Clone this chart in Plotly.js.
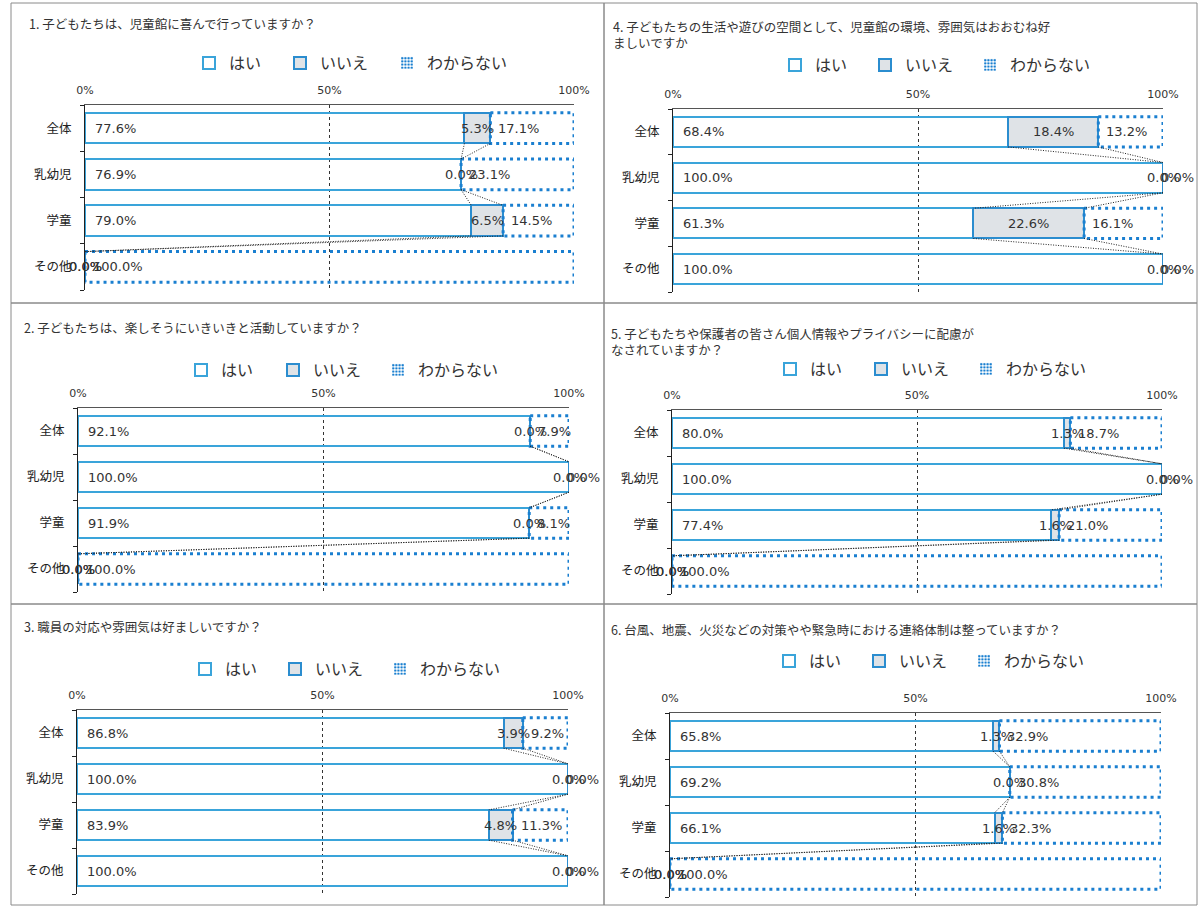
<!DOCTYPE html>
<html><head><meta charset="utf-8">
<script src="https://cdn.plot.ly/plotly-3.0.1.min.js"></script>
<style>html,body{margin:0;padding:0;background:#fff}#chart{width:1200px;height:907px}</style>
</head><body><div id="chart"></div>
<script>
// ---------- data ----------
const categories = ['全体', '乳幼児', '学童', 'その他'];
const seriesNames = ['はい', 'いいえ', 'わからない'];
const tickValues = [0, 50, 100];
const tickLabels = ['0%', '50%', '100%'];

const title1 = '1. 子どもたちは、児童館に喜んで行っていますか？';
const title2 = '2. 子どもたちは、楽しそうにいきいきと活動していますか？';
const title3 = '3. 職員の対応や雰囲気は好ましいですか？';
const title4 = '4. 子どもたちの生活や遊びの空間として、児童館の環境、雰囲気はおおむね好<br>ましいですか';
const title5 = '5. 子どもたちや保護者の皆さん個人情報やプライバシーに配慮が<br>なされていますか？';
const title6 = '6. 台風、地震、火災などの対策やや緊急時における連絡体制は整っていますか？';

const q1Yes = [77.6, 76.9, 79.0, 0.0];
const q1No  = [5.3, 0.0, 6.5, 0.0];
const q1Dk  = [17.1, 23.1, 14.5, 100.0];

const q2Yes = [92.1, 100.0, 91.9, 0.0];
const q2No  = [0.0, 0.0, 0.0, 0.0];
const q2Dk  = [7.9, 0.0, 8.1, 100.0];

const q3Yes = [86.8, 100.0, 83.9, 100.0];
const q3No  = [3.9, 0.0, 4.8, 0.0];
const q3Dk  = [9.2, 0.0, 11.3, 0.0];

const q4Yes = [68.4, 100.0, 61.3, 100.0];
const q4No  = [18.4, 0.0, 22.6, 0.0];
const q4Dk  = [13.2, 0.0, 16.1, 0.0];

const q5Yes = [80.0, 100.0, 77.4, 0.0];
const q5No  = [1.3, 0.0, 1.6, 0.0];
const q5Dk  = [18.7, 0.0, 21.0, 100.0];

const q6Yes = [65.8, 69.2, 66.1, 0.0];
const q6No  = [1.3, 0.0, 1.6, 0.0];
const q6Dk  = [32.9, 30.8, 32.3, 100.0];

const panels = [
  {title: title1, yes: q1Yes, no: q1No, dk: q1Dk},
  {title: title2, yes: q2Yes, no: q2No, dk: q2Dk},
  {title: title3, yes: q3Yes, no: q3No, dk: q3Dk},
  {title: title4, yes: q4Yes, no: q4No, dk: q4Dk},
  {title: title5, yes: q5Yes, no: q5No, dk: q5Dk},
  {title: title6, yes: q6Yes, no: q6No, dk: q6Dk}
];

// ---------- layout geometry (pixels) ----------
const W = 1200, H = 907;
const geom = [
  {plot: [85, 574, 105, 290],   title: [27, 23],  legendY: 63,  legendX: [209, 300, 407]},
  {plot: [78, 569, 408, 592],   title: [22, 327], legendY: 370, legendX: [201, 293, 398]},
  {plot: [77, 568, 710, 894],   title: [22, 626], legendY: 669, legendX: [205, 295, 400]},
  {plot: [673, 1163, 109, 292], title: [611, 34], legendY: 65,  legendX: [795, 885, 990]},
  {plot: [672, 1162, 410, 594], title: [609, 341], legendY: 369, legendX: [790, 881, 986]},
  {plot: [670, 1161, 713, 897], title: [609, 629], legendY: 661, legendX: [789, 879, 984]}
];
const borders = [[11, 604, 3, 303], [11, 604, 303, 604], [11, 604, 604, 905],
                 [604, 1197, 3, 303], [604, 1197, 303, 604], [604, 1197, 604, 905]];

const px = x => x / W;
const py = y => 1 - y / H;

const CJK = '"Noto Sans CJK JP", sans-serif';
const NUM = '"DejaVu Sans", "Noto Sans CJK JP", sans-serif';
const C_YES = '#3aa4da';
const C_NO = '#2b8dcf';
const C_DK = '#1a7fd0';
const BW = 0.66, HW = BW / 2;

const traces = [];
const annotations = [];
const shapes = [];
const layout = {
  width: W, height: H,
  margin: {l: 0, r: 0, t: 0, b: 0},
  paper_bgcolor: '#ffffff',
  plot_bgcolor: 'rgba(0,0,0,0)',
  barmode: 'stack',
  barnorm: 'percent',
  font: {family: CJK, size: 12, color: '#333'},
  hovermode: false
};

borders.forEach(b => {
  shapes.push({type: 'rect', xref: 'paper', yref: 'paper',
    x0: px(b[0]), x1: px(b[1]), y0: py(b[2]), y1: py(b[3]),
    line: {color: '#8a8a8a', width: 1}, layer: 'below'});
});

const fmt = v => v.toFixed(1) + '%';
const legendId = (k, s) => { const n = k * 3 + s + 1; return n === 1 ? 'legend' : 'legend' + n; };

panels.forEach((p, k) => {
  const n = k + 1;
  const sfx = n === 1 ? '' : String(n);
  const xa = 'x' + sfx, ya = 'y' + sfx;
  const g = geom[k];
  const idx = categories.map((_, i) => i);
  const tot = idx.map(i => p.yes[i] + p.no[i] + p.dk[i]);
  const a = idx.map(i => p.yes[i] / tot[i] * 100);
  const b = idx.map(i => (p.yes[i] + p.no[i]) / tot[i] * 100);

  const common = {type: 'bar', orientation: 'h', y: idx, width: BW, xaxis: xa, yaxis: ya,
    cliponaxis: false, hoverinfo: 'skip'};
  traces.push(Object.assign({}, common, {name: seriesNames[0], x: p.yes, legend: legendId(k, 0),
    marker: {color: 'rgba(255,255,255,0)', line: {color: C_YES, width: 2}}}));
  traces.push(Object.assign({}, common, {name: seriesNames[1], x: p.no, legend: legendId(k, 1),
    marker: {color: '#dfe3e7', line: {color: C_NO, width: 2}}}));
  traces.push(Object.assign({}, common, {name: seriesNames[2], x: p.dk, showlegend: false,
    marker: {color: 'rgba(255,255,255,0)', line: {width: 0}}}));

  // dotted outline of わからない segments
  const ox = [], oy = [];
  idx.forEach(i => {
    if (p.dk[i] > 0) {
      ox.push(b[i], 100, 100, b[i], b[i], null);
      oy.push(i - HW, i - HW, i + HW, i + HW, i - HW, null);
    }
  });
  traces.push({type: 'scatter', mode: 'lines', x: ox, y: oy, xaxis: xa, yaxis: ya,
    showlegend: false, cliponaxis: false, hoverinfo: 'skip',
    line: {color: C_DK, width: 3, dash: '3px,4px'}});

  // series lines
  const sx = [], sy = [];
  for (let i = 0; i < categories.length - 1; i++) {
    [a, b].forEach(c => {
      sx.push(c[i], c[i + 1], null);
      sy.push(i + HW, i + 1 - HW, null);
    });
  }
  traces.push({type: 'scatter', mode: 'lines', x: sx, y: sy, xaxis: xa, yaxis: ya,
    showlegend: false, cliponaxis: false, hoverinfo: 'skip',
    line: {color: '#222', width: 1, dash: '1px,1.5px'}});

  // legend entry for わからない (dotted icon)
  traces.push({type: 'bar', orientation: 'h', name: seriesNames[2], x: [null], y: [null],
    xaxis: xa, yaxis: ya, legend: legendId(k, 2), hoverinfo: 'skip',
    marker: {color: '#ffffff', line: {width: 0},
      pattern: {shape: '.', fgcolor: C_DK, bgcolor: '#ffffff', size: 4, solidity: 0.5}}});

  // data labels
  const lblFont = {family: NUM, size: 13, color: '#333'};
  idx.forEach(i => {
    annotations.push({xref: xa, yref: ya, x: 0, y: i, text: fmt(p.yes[i]), showarrow: false,
      xanchor: p.yes[i] > 0 ? 'left' : 'center', xshift: p.yes[i] > 0 ? 8 : 0, font: lblFont});
    annotations.push({xref: xa, yref: ya, x: (a[i] + b[i]) / 2, y: i, text: fmt(p.no[i]), showarrow: false,
      xanchor: 'center', font: lblFont});
    annotations.push({xref: xa, yref: ya, x: b[i], y: i, text: fmt(p.dk[i]), showarrow: false,
      xanchor: p.dk[i] > 0 ? 'left' : 'center', xshift: p.dk[i] > 0 ? 6 : 14, font: lblFont});
  });

  // panel title
  annotations.push({xref: 'paper', yref: 'paper', x: px(g.title[0]), y: py(g.title[1]),
    xanchor: 'left', yanchor: 'middle', align: 'left', showarrow: false, text: p.title,
    font: {family: CJK, size: 12.5, color: '#333'}});

  layout['xaxis' + sfx] = {
    domain: [px(g.plot[0]), px(g.plot[1])], range: [0, 100], side: 'top', anchor: ya,
    tickmode: 'array', tickvals: tickValues, ticktext: tickLabels, ticks: '',
    showline: true, linecolor: '#555', linewidth: 1,
    showgrid: true, gridcolor: '#333', griddash: '3px,3px', gridwidth: 1, zeroline: false,
    tickfont: {family: NUM, size: 11, color: '#333'}, ticklabelstandoff: 6, fixedrange: true
  };
  layout['yaxis' + sfx] = {
    domain: [py(g.plot[3]), py(g.plot[2])], range: [3.5, -0.5], anchor: xa,
    tickmode: 'array', tickvals: idx, ticktext: categories, ticks: '',
    showline: true, linecolor: '#222', linewidth: 1, showgrid: false, zeroline: false,
    tickfont: {family: CJK, size: 12.5, color: '#222'}, ticklabelstandoff: 10,
    minor: {tickmode: 'linear', tick0: -0.5, dtick: 1, ticks: 'outside', ticklen: 4,
      tickcolor: '#222', showgrid: false},
    fixedrange: true
  };
  // one legend per series, placed where the reference shows each entry
  g.legendX.forEach((lx, s) => {
    layout[legendId(k, s)] = {
      orientation: 'h', x: px(lx - 20), y: py(g.legendY), xanchor: 'left', yanchor: 'middle',
      font: {family: CJK, size: 16, color: '#333'}, bgcolor: 'rgba(0,0,0,0)',
      itemclick: false, itemdoubleclick: false
    };
  });
});

layout.annotations = annotations;
layout.shapes = shapes;
Plotly.newPlot('chart', traces, layout, {displayModeBar: false, staticPlot: true});
</script>
</body></html>
